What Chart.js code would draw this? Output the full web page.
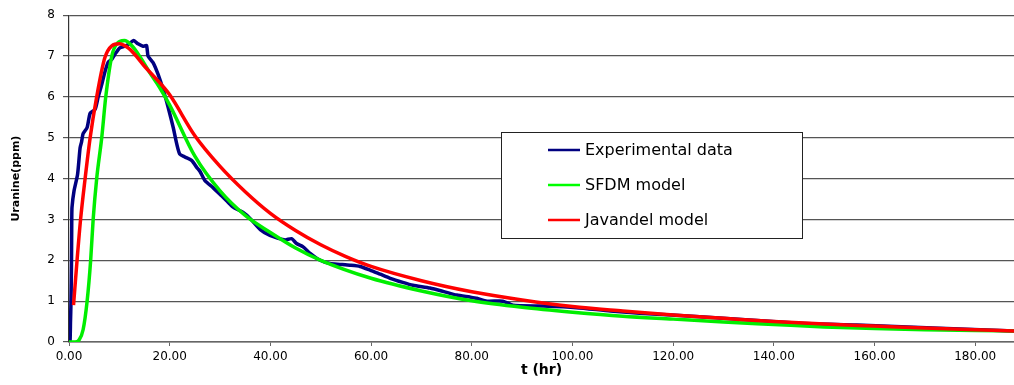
<!DOCTYPE html>
<html>
<head>
<meta charset="utf-8">
<script src="https://cdn.jsdelivr.net/npm/chart.js@4/dist/chart.umd.min.js"></script>
<style>
  html, body { margin: 0; padding: 0; background: #fff; }
  #wrap { width: 1014px; height: 385px; }
</style>
</head>
<body>
<div id="wrap"><canvas id="uranineChart"></canvas></div>
<script>
// experimental data
const expT = [0, 0.2, 0.3, 0.4, 0.5, 0.55, 0.6, 1.0, 1.7, 2.2, 2.5, 2.8, 3.6, 4.2, 5.2, 5.8, 6.5, 7.1, 7.8, 8.5, 9.1, 10.1, 11.1, 12.0, 12.8, 13.7, 14.7, 15.4, 15.7, 16.7, 17.7, 18.7, 19.7, 20.7, 21.4, 22, 23, 24.4, 25.4, 26, 27, 28.6, 30.3, 31.3, 32.6, 34.6, 36, 38, 39.9, 42.9, 44.2, 45.2, 46.5, 47.9, 49.9, 51.8, 53.8, 55.8, 57.8, 59.8, 61.8, 63.8, 66.3, 68.3, 71.7, 74.3, 77, 79.6, 81, 83, 86.2, 88.2, 94.2, 100.8, 107.5, 114, 125.3, 145, 156.5, 171.6, 187.7]
const expU = [0, 0, 0.5, 1.0, 2.0, 3.0, 3.3, 3.7, 4.1, 4.75, 4.9, 5.1, 5.25, 5.6, 5.7, 6.0, 6.3, 6.6, 6.85, 6.92, 7.04, 7.2, 7.24, 7.3, 7.38, 7.3, 7.24, 7.26, 7.0, 6.84, 6.55, 6.18, 5.74, 5.25, 4.85, 4.6, 4.53, 4.44, 4.27, 4.18, 3.95, 3.78, 3.58, 3.46, 3.3, 3.17, 3.02, 2.75, 2.61, 2.5, 2.53, 2.41, 2.33, 2.17, 2.0, 1.92, 1.9, 1.88, 1.85, 1.76, 1.66, 1.56, 1.46, 1.39, 1.32, 1.24, 1.15, 1.1, 1.07, 1.0, 1.0, 0.9, 0.88, 0.84, 0.76, 0.7, 0.62, 0.46, 0.415, 0.34, 0.27]

// SFDM model
const sfdmT = [0, 1.2, 2, 2.8, 3.6, 4.3, 4.8, 5.5, 6.5, 7.3, 8.5, 9.5, 11, 12.5, 14, 16, 18, 20, 25, 30, 35, 40, 45, 50, 60, 70, 80, 90, 100, 110, 120, 130, 140, 150, 160, 170, 180, 187.7]
const sfdmU = [0, 0, 0.05, 0.3, 1.0, 2.0, 3.0, 4.0, 5.0, 6.0, 7.0, 7.3, 7.38, 7.25, 7.0, 6.6, 6.23, 5.8, 4.55, 3.7, 3.1, 2.68, 2.3, 2.0, 1.56, 1.25, 1.01, 0.85, 0.73, 0.63, 0.56, 0.49, 0.43, 0.37, 0.33, 0.3, 0.28, 0.27]

// Javandel model
const javT = [0.9, 1.6, 2.3, 3.2, 4.2, 5.5, 7.1, 8.5, 10, 11.5, 13, 15, 18, 20, 25, 30, 35, 40, 45, 50, 55, 60, 70, 80, 90, 100, 110, 120, 130, 140, 150, 160, 170, 180, 187.7]
const javU = [0.9, 2.0, 3.0, 4.0, 5.0, 6.0, 6.95, 7.25, 7.3, 7.22, 7.05, 6.75, 6.35, 6.05, 5.05, 4.3, 3.68, 3.15, 2.73, 2.38, 2.09, 1.85, 1.5, 1.23, 1.03, 0.87, 0.76, 0.66, 0.58, 0.5, 0.44, 0.39, 0.34, 0.3, 0.27]

const xTicks = [0, 20, 40, 60, 80, 100, 120, 140, 160, 180]

const toPoints = (t, u) => t.map((v, i) => ({ x: v, y: u[i] }))

// legend box drawn inside the plot like the original
const boxLegend = {
    id: 'boxLegend',
    afterDraw(chart) {
        const ctx = chart.ctx
        const items = chart.data.datasets
        ctx.save()
        ctx.fillStyle = '#fff'
        ctx.fillRect(501, 132, 301, 106)
        ctx.strokeStyle = '#222'
        ctx.lineWidth = 1
        ctx.strokeRect(501.5, 132.5, 301, 106)
        const rows = ['Experimental data', 'SFDM model', 'Javandel model']
        const colors = ['#000080', '#00ff00', '#ff0000']
        ctx.font = '16px "DejaVu Sans"'
        ctx.textBaseline = 'middle'
        rows.forEach((txt, i) => {
            const y = 150 + i * 35
            ctx.strokeStyle = colors[i]
            ctx.lineWidth = 2.5
            ctx.beginPath()
            ctx.moveTo(548, y)
            ctx.lineTo(580, y)
            ctx.stroke()
            ctx.fillStyle = '#000'
            ctx.fillText(txt, 585, y + 1)
        })
        ctx.restore()
    }
}

new Chart(document.getElementById('uranineChart'), {
    type: 'line',
    data: {
        datasets: [{
            label: 'Experimental data',
            data: toPoints(expT, expU),
            borderColor: '#000080',
            borderWidth: 3.5,
            pointRadius: 0,
            tension: 0.2,
            order: 2
        }, {
            label: 'SFDM model',
            data: toPoints(sfdmT, sfdmU),
            borderColor: '#00ee00',
            borderWidth: 3.5,
            pointRadius: 0,
            cubicInterpolationMode: 'monotone',
            order: 1
        }, {
            label: 'Javandel model',
            data: toPoints(javT, javU),
            borderColor: '#ff0000',
            borderWidth: 3.5,
            pointRadius: 0,
            cubicInterpolationMode: 'monotone',
            order: 0
        }]
    },
    options: {
        responsive: true,
        maintainAspectRatio: false,
        animation: false,
        layout: { padding: { top: 14, right: 0, left: 0, bottom: 0 } },
        plugins: {
            legend: { display: false },
            tooltip: { enabled: false }
        },
        scales: {
            x: {
                type: 'linear',
                min: 0,
                max: 187.7,
                afterBuildTicks: (scale) => {
                    scale.ticks = xTicks.map(v => ({ value: v }))
                },
                afterFit: (scale) => { scale.height = 43 },
                ticks: {
                    color: '#000',
                    font: { family: 'DejaVu Sans', size: 12 },
                    padding: 4,
                    maxRotation: 0,
                    callback: (v) => Number(v).toFixed(2)
                },
                grid: {
                    drawOnChartArea: false,
                    drawTicks: true,
                    tickLength: 4,
                    color: '#666'
                },
                border: { display: true, color: '#666', width: 1.5 },
                title: {
                    display: true,
                    text: 't (hr)',
                    color: '#000',
                    font: { family: 'DejaVu Sans', size: 14, weight: 'bold' },
                    padding: { top: 0, bottom: 6 }
                }
            },
            y: {
                min: 0,
                max: 8,
                afterFit: (scale) => { scale.width = 69 },
                ticks: {
                    stepSize: 1,
                    color: '#000',
                    font: { family: 'DejaVu Sans', size: 12 },
                    padding: 8
                },
                grid: {
                    color: '#555',
                    lineWidth: 1.2,
                    tickLength: 6
                },
                border: { display: true, color: '#333', width: 1.2 },
                title: {
                    display: true,
                    text: 'Uranine(ppm)',
                    color: '#000',
                    font: { family: 'DejaVu Sans', size: 11, weight: 'bold' },
                    padding: { top: 10, bottom: 0 }
                }
            }
        }
    },
    plugins: [boxLegend]
})
</script>
</body>
</html>
